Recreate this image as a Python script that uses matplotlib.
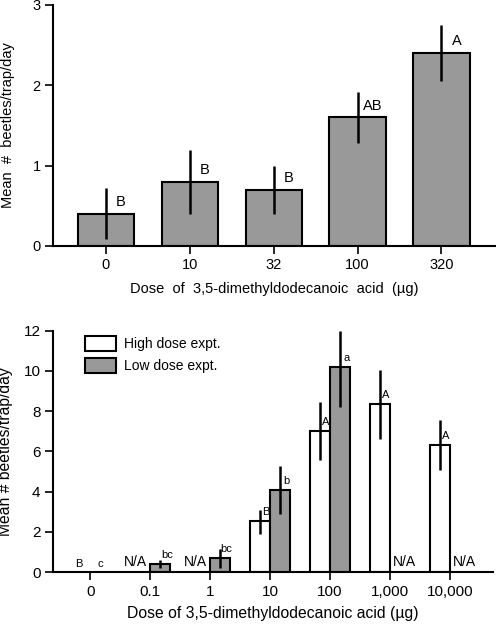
import matplotlib
matplotlib.use("Agg")
import matplotlib.pyplot as plt
from matplotlib.patches import Patch
import numpy as np

plt.rcParams['font.family'] = ['Liberation Sans', 'DejaVu Sans']

# ---- Top panel data ----
top_doses = ["0", "10", "32", "100", "320"]
top_means = [0.4, 0.8, 0.7, 1.6, 2.4]
top_err_lo = [0.08, 0.4, 0.4, 1.28, 2.05]
top_err_hi = [0.72, 1.2, 1.0, 1.92, 2.75]
top_letters = ["B", "B", "B", "AB", "A"]

# ---- Bottom panel data ----
bot_doses = ["0", "0.1", "1", "10", "100", "1,000", "10,000"]
high_means = [0.0, None, None, 2.55, 7.0, 8.35, 6.3]
high_err_lo = [None, None, None, 1.9, 5.6, 6.6, 5.1]
high_err_hi = [None, None, None, 3.1, 8.45, 10.05, 7.55]
high_letters = ["B", "N/A", "N/A", "B", "A", "A", "A"]
low_means = [0.0, 0.4, 0.7, 4.1, 10.2, None, None]
low_err_lo = [None, 0.22, 0.22, 2.9, 8.2, None, None]
low_err_hi = [None, 0.6, 1.14, 5.3, 12.0, None, None]
low_letters = ["c", "bc", "bc", "b", "a", "N/A", "N/A"]

GRAY = "#999999"
fig = plt.figure(figsize=(4.96, 6.24), dpi=100)

def style(ax, ls):
    for s in ("top", "right"):
        ax.spines[s].set_visible(False)
    for s in ("left", "bottom"):
        ax.spines[s].set_linewidth(1.5)
    ax.tick_params(direction="out", width=1.2, length=6, labelsize=ls, pad=3)

# Top
ax1 = fig.add_axes([0.107, 0.606, 0.893, 0.386])
style(ax1, 10.5)
x = np.arange(len(top_doses))
ax1.bar(x, top_means, width=0.67, color=GRAY, edgecolor="black", linewidth=1.5, zorder=2)
for xi, lo, hi, m, lab in zip(x, top_err_lo, top_err_hi, top_means, top_letters):
    ax1.vlines(xi, lo, hi, color="black", linewidth=1.8, zorder=3)
    ax1.text(xi + 0.18, m + 0.06, lab, ha="center", va="bottom", fontsize=10.5)
ax1.set_xlim(-0.63, 4.65)
ax1.set_ylim(0, 3)
ax1.set_yticks([0, 1, 2, 3])
ax1.set_xticks(x)
ax1.set_xticklabels(top_doses)
ax1.set_xlabel("Dose  of  3,5-dimethyldodecanoic  acid  (\u00b5g)", fontsize=10.5)
ax1.set_ylabel("Mean  #  beetles/trap/day", fontsize=10.5)
ax1.xaxis.set_label_coords(0.5, -0.148)
ax1.yaxis.set_label_coords(-0.085, 0.5)

# Bottom
ax2 = fig.add_axes([0.107, 0.083, 0.887, 0.387])
style(ax2, 11)
xb = np.arange(len(bot_doses))
w = 0.333
for i in range(len(bot_doses)):
    hc = xb[i] - w / 2
    lc = xb[i] + w / 2
    # high dose
    if high_means[i] is not None and high_means[i] > 0:
        ax2.bar(hc, high_means[i], width=w, color="white", edgecolor="black", linewidth=1.5, zorder=2)
        ax2.vlines(hc, high_err_lo[i], high_err_hi[i], color="black", linewidth=1.8, zorder=3)
        ax2.text(hc + 0.1, high_means[i] + 0.2, high_letters[i], ha="center", va="bottom", fontsize=8)
    elif high_means[i] is None:
        ax2.text(hc - 0.08, 0.15, high_letters[i], ha="center", va="bottom", fontsize=10)
    else:
        ax2.text(hc - 0.02, 0.15, high_letters[i], ha="center", va="bottom", fontsize=8)
    # low dose
    if low_means[i] is not None and low_means[i] > 0:
        ax2.bar(lc, low_means[i], width=w, color=GRAY, edgecolor="black", linewidth=1.5, zorder=2)
        ax2.vlines(lc, low_err_lo[i], low_err_hi[i], color="black", linewidth=1.8, zorder=3)
        ax2.text(lc + 0.11, low_means[i] + 0.2, low_letters[i], ha="center", va="bottom", fontsize=8)
    elif low_means[i] is None:
        ax2.text(lc + 0.07, 0.15, low_letters[i], ha="center", va="bottom", fontsize=10)
    else:
        ax2.text(lc, 0.15, low_letters[i], ha="center", va="bottom", fontsize=8)
ax2.set_xlim(-0.62, 6.72)
ax2.set_ylim(0, 12)
ax2.set_yticks(np.arange(0, 13, 2))
ax2.set_xticks(xb)
ax2.set_xticklabels(bot_doses)
ax2.set_xlabel("Dose of 3,5-dimethyldodecanoic acid (\u00b5g)", fontsize=11.3)
ax2.set_ylabel("Mean # beetles/trap/day", fontsize=11.3)
ax2.xaxis.set_label_coords(0.5, -0.14)
ax2.yaxis.set_label_coords(-0.09, 0.5)

handles = [Patch(facecolor="white", edgecolor="black", linewidth=1.5, label="High dose expt."),
           Patch(facecolor=GRAY, edgecolor="black", linewidth=1.5, label="Low dose expt.")]
ax2.legend(handles=handles, loc="upper left", bbox_to_anchor=(0.045, 1.03), frameon=False,
           fontsize=10, handlelength=2.2, handleheight=1.3, handletextpad=0.6, labelspacing=0.5)

fig.savefig("out.png", dpi=100)
